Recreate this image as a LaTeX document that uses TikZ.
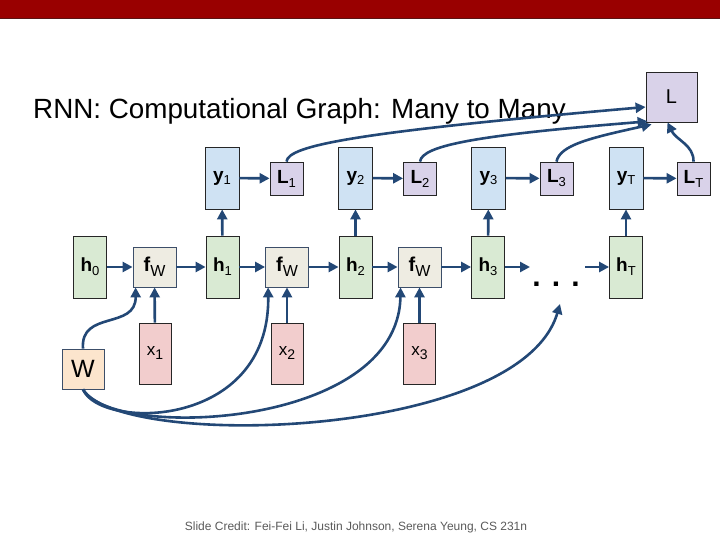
\documentclass[tikz,border=0pt]{standalone}
\usepackage{fontspec}
\setmainfont{Liberation Sans}
\usetikzlibrary{arrows.meta}
\definecolor{topred}{RGB}{153,0,0}
\definecolor{topline}{RGB}{90,20,20}
\definecolor{hgreen}{RGB}{217,234,211}
\definecolor{yblue}{RGB}{207,226,243}
\definecolor{lpurple}{RGB}{217,210,233}
\definecolor{xpink}{RGB}{242,205,205}
\definecolor{wpeach}{RGB}{252,229,205}
\definecolor{fgrey}{RGB}{238,236,226}
\definecolor{slate}{RGB}{60,78,105}
\definecolor{arrowblue}{RGB}{35,72,118}
\definecolor{credgray}{RGB}{90,90,90}
\newcommand\sublab[5]{{\fontsize{#1}{#1}\selectfont #2}\raisebox{#5}{\fontsize{#3}{#3}\selectfont #4}}
\tikzset{
  box/.style={draw=black!85, line width=0.8pt, inner sep=0pt, align=center},
  hbox/.style={box, fill=hgreen, minimum width=33pt, minimum height=62pt},
  ybox/.style={box, fill=yblue, minimum width=34pt, minimum height=62pt},
  lbox/.style={box, fill=lpurple, minimum width=33pt, minimum height=33pt},
  xbox/.style={box, fill=xpink, minimum width=32pt, minimum height=61pt},
  fwbox/.style={box, draw=slate, fill=fgrey, minimum width=43pt, minimum height=40pt},
  wbox/.style={box, draw=slate, fill=wpeach, minimum width=42pt, minimum height=40pt},
  bigl/.style={box, fill=lpurple, minimum width=51pt, minimum height=50pt},
  arr/.style={draw=arrowblue, line width=2.6pt, -{Triangle[length=10pt,width=10pt]}},
}
\newcommand\hl[1]{\sublab{19}{\textbf{h}}{13}{#1}{-4pt}}
\newcommand\yl[1]{\sublab{19}{\textbf{y}}{13}{#1}{-3pt}}
\newcommand\Ll[1]{\sublab{19}{\textbf{L}}{13}{#1}{-4pt}}
\newcommand\xl[1]{\sublab{17}{x}{14}{#1}{-4pt}}
\newcommand\fw{\sublab{20}{\textbf{f}}{16}{W}{-5pt}}
\begin{document}
\begin{tikzpicture}[x=1pt,y=-1pt]
\useasboundingbox (0,0) rectangle (720,540);
\fill[topred] (0,0) rectangle (720,18);
\draw[topline, line width=1pt] (0,18.5) -- (720,18.5);

\node[anchor=base west, font=\fontsize{27.8}{27.8}\selectfont, inner sep=0pt] (title) at (33,119) {RNN: Computational Graph: Many to Many};

% hidden chain
\node[hbox] (h0) at (90,267) {\hl{0}};
\node[fwbox] (fW1) at (154.5,267) {\fw};
\node[hbox] (h1) at (222.5,267) {\hl{1}};
\node[fwbox] (fW2) at (287,267) {\fw};
\node[hbox] (h2) at (355.5,267) {\hl{2}};
\node[fwbox] (fW3) at (419.5,267) {\fw};
\node[hbox] (h3) at (488,267) {\hl{3}};
\node[hbox] (hT) at (626,267) {\hl{T}};
\node[anchor=base, font=\fontsize{30}{30}\selectfont\bfseries, inner sep=0pt] (dots) at (556,286) {. . .};
\coordinate (dA) at (530,267);
\coordinate (dB) at (585,267);
\coordinate (dotsin) at (560,304);

% inputs
\node[xbox] (x1) at (155,353.5) {\xl{1}};
\node[xbox] (x2) at (287,353.5) {\xl{2}};
\node[xbox] (x3) at (419.5,353.5) {\xl{3}};
\node[wbox, font=\fontsize{25}{25}\selectfont] (W) at (83,369) {W};

% outputs
\node[ybox] (y1) at (222,178) {\yl{1}};
\node[lbox] (L1) at (286.5,178.5) {\Ll{1}};
\node[ybox] (y2) at (355.5,178) {\yl{2}};
\node[lbox] (L2) at (420,178.5) {\Ll{2}};
\node[ybox] (y3) at (488.5,178) {\yl{3}};
\node[lbox] (L3) at (556.5,178.5) {\Ll{3}};
\node[ybox] (yT) at (626,178) {\yl{T}};
\node[lbox] (LT) at (693.5,178.5) {\Ll{T}};
\node[bigl, font=\fontsize{20}{20}\selectfont] (L) at (671.5,97) {L};

% straight arrows
\draw[arr] (h0) -- (fW1);
\draw[arr] (fW1) -- (h1);
\draw[arr] (h1) -- (fW2);
\draw[arr] (fW2) -- (h2);
\draw[arr] (h2) -- (fW3);
\draw[arr] (fW3) -- (h3);
\draw[arr] (h3) -- (dA);
\draw[arr] (dB) -- (hT);
\draw[arr] (x1) -- (fW1);
\draw[arr] (x2) -- (fW2);
\draw[arr] (x3) -- (fW3);
\draw[arr] (h1) -- (y1);
\draw[arr] (h2) -- (y2);
\draw[arr] (h3) -- (y3);
\draw[arr] (hT) -- (yT);
\draw[arr] (y1) -- (L1);
\draw[arr] (y2) -- (L2);
\draw[arr] (y3) -- (L3);
\draw[arr] (yT) -- (LT);

% weight sharing curves
\draw[arr] (W.north) .. controls (80,310) and (136,330) .. ([xshift=3pt]fW1.south west);
\draw[arr] (W.south) .. controls (100,430) and (270,430) .. ([xshift=3pt]fW2.south west);
\draw[arr] (W.south) .. controls (110,440) and (398,430) .. ([xshift=3pt]fW3.south west);
\draw[arr] (W.south) .. controls (120,450) and (520,440) .. (dotsin);

% losses to total loss
\draw[arr] (L1.north) .. controls (288,145) and (360,132) .. ([yshift=-10pt]L.west);
\draw[arr] (L2.north) .. controls (422,145) and (480,135) .. ([xshift=2pt,yshift=1pt]L.south west);
\draw[arr] (L3.north) .. controls (560,145) and (590,138) .. ([xshift=6pt,yshift=-2pt]L.south west);
\draw[arr] (LT.north) .. controls (694,145) and (676,140) .. ([xshift=-4pt]L.south);

\node[font=\fontsize{12}{12}\selectfont, text=credgray] (credit) at (356,527) {Slide Credit: Fei-Fei Li, Justin Johnson, Serena Yeung, CS 231n};
\end{tikzpicture}
\end{document}
